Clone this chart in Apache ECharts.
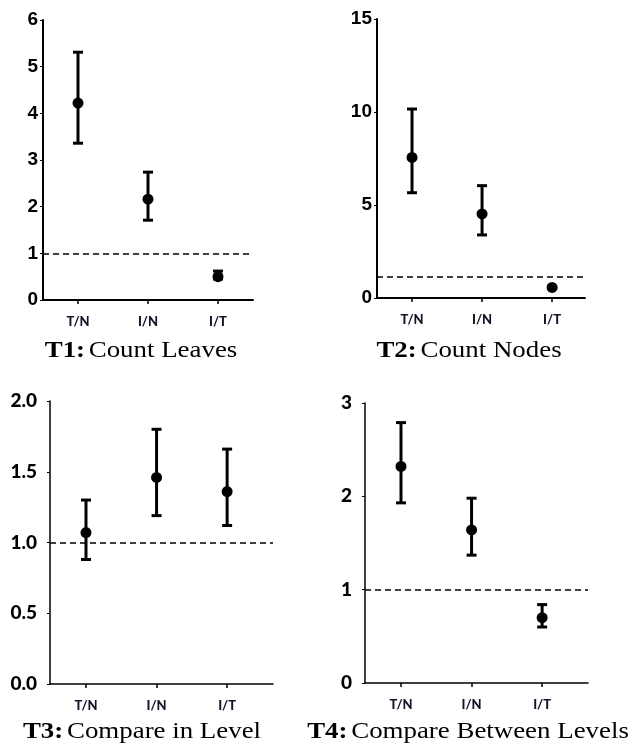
<!DOCTYPE html>
<html>
<head>
<meta charset="utf-8">
<title>Ratio plots</title>
<style>
  html, body { margin: 0; padding: 0; background: #fff; }
  #main { width: 633px; height: 751px; }
</style>
</head>
<body>
<div id="main"></div>
<script src="https://cdn.jsdelivr.net/npm/echarts@6/dist/echarts.min.js"></script>
<script>
  // data
  var categories = ['T/N', 'I/N', 'I/T'];

  var t1Mean = [4.22, 2.16, 0.50];
  var t1Low  = [3.36, 1.71, 0.45];
  var t1High = [5.31, 2.74, 0.62];

  var t2Mean = [7.56, 4.52, 0.57];
  var t2Low  = [5.66, 3.39, 0.52];
  var t2High = [10.16, 6.04, 0.62];

  var t3Mean = [1.07, 1.46, 1.36];
  var t3Low  = [0.88, 1.19, 1.12];
  var t3High = [1.30, 1.80, 1.66];

  var t4Mean = [2.32, 1.64, 0.70];
  var t4Low  = [1.93, 1.37, 0.60];
  var t4High = [2.79, 1.98, 0.84];

  var refLines = [1, 1.15, 1, 1];
  var yMax = [6, 15, 2, 3];
  var yStep = [1, 5, 0.5, 1];
  var titleBold = ['T1:', 'T2:', 'T3:', 'T4:'];
  var titleText = ['Count Leaves', 'Count Nodes', 'Compare in Level', 'Compare Between Levels'];

  var panels = [
    {mean: t1Mean, low: t1Low, high: t1High},
    {mean: t2Mean, low: t2Low, high: t2High},
    {mean: t3Mean, low: t3Low, high: t3High},
    {mean: t4Mean, low: t4Low, high: t4High}
  ];

  // layout of each panel (pixels)
  var layout = [
    {left: 43,  top: 20,  width: 210, height: 280, xmin: -0.5,  xmax: 2.5,  tx: 141, ty: 351},
    {left: 377, top: 19,  width: 208, height: 279, xmin: -0.5,  xmax: 2.47, tx: 469, ty: 351},
    {left: 50,  top: 401, width: 223, height: 283, xmin: -0.51, xmax: 2.65, tx: 142, ty: 732},
    {left: 365, top: 403, width: 223, height: 280, xmin: -0.51, xmax: 2.65, tx: 468, ty: 732}
  ];
  var tickFont = ['Liberation Sans', 'Liberation Sans', 'Lato', 'Lato'];
  var axisWidth = [2, 2, 1.5, 1.5];

  function errorBarItem(params, api) {
    var x = api.value(0);
    var top = api.coord([x, api.value(3)]);
    var bot = api.coord([x, api.value(2)]);
    var mid = api.coord([x, api.value(1)]);
    var capHalf = 5;
    var st = {stroke: '#000', lineWidth: 3};
    return {
      type: 'group',
      children: [
        {type: 'line', shape: {x1: top[0], y1: top[1], x2: bot[0], y2: bot[1]}, style: st},
        {type: 'line', shape: {x1: top[0] - capHalf, y1: top[1], x2: top[0] + capHalf, y2: top[1]}, style: st},
        {type: 'line', shape: {x1: bot[0] - capHalf, y1: bot[1], x2: bot[0] + capHalf, y2: bot[1]}, style: st},
        {type: 'circle', shape: {cx: mid[0], cy: mid[1], r: 5.5}, style: {fill: '#000'}}
      ]
    };
  }

  var grids = [], xAxes = [], yAxes = [], series = [], captions = [];
  panels.forEach(function (p, i) {
    var L = layout[i];
    grids.push({left: L.left, top: L.top, width: L.width, height: L.height, containLabel: false});
    xAxes.push({
      type: 'value', gridIndex: i, min: L.xmin, max: L.xmax,
      splitLine: {show: false},
      axisLine: {show: true, onZero: false, lineStyle: {color: '#000', width: axisWidth[i]}},
      axisTick: {show: true, customValues: [0, 1, 2], length: 4, lineStyle: {color: '#000', width: 1.5}},
      axisLabel: {
        customValues: [0, 1, 2], margin: 15,
        fontFamily: 'Lato', fontWeight: 900, fontSize: 13, color: '#141428',
        formatter: function (v) { return categories[Math.round(v)] || ''; }
      }
    });
    yAxes.push({
      type: 'value', gridIndex: i, min: 0, max: yMax[i], interval: yStep[i],
      splitLine: {show: false},
      axisLine: {show: true, onZero: false, lineStyle: {color: '#000', width: axisWidth[i]}},
      axisTick: {show: true, length: 3, lineStyle: {color: '#000', width: 1}},
      axisLabel: {
        fontFamily: tickFont[i], fontWeight: i < 2 ? 'bold' : 900, fontSize: 19, color: '#000',
        margin: i < 2 ? 5 : 13,
        formatter: function (v) { return i === 2 ? v.toFixed(1) : String(v); }
      }
    });
    var data = p.mean.map(function (m, k) { return [k, m, p.low[k], p.high[k]]; });
    series.push({
      type: 'custom', xAxisIndex: i, yAxisIndex: i,
      renderItem: errorBarItem,
      encode: {x: 0, y: [1, 2, 3]},
      data: data,
      silent: true,
      markLine: {
        silent: true, symbol: 'none',
        label: {show: false},
        lineStyle: {color: '#000', width: 1.5, type: [6, 4]},
        data: [{yAxis: refLines[i]}]
      },
      z: 3
    });
    // caption under each panel, the source is a bit wider than plain Times
    captions.push({
      type: 'text', x: L.tx, y: L.ty, scaleX: 1.12,
      style: {
        text: '{b|' + titleBold[i] + '} {n|' + titleText[i] + '}',
        align: 'center', verticalAlign: 'middle',
        textAlign: 'center', textVerticalAlign: 'middle',
        fill: '#000',
        rich: {
          b: {fontFamily: 'Liberation Serif', fontWeight: 'bold', fontSize: 24, fill: '#000', color: '#000'},
          n: {fontFamily: 'Liberation Serif', fontWeight: 'normal', fontSize: 24, fill: '#000', color: '#000'}
        }
      }
    });
  });

  var myChart = echarts.init(document.getElementById('main'), null, {renderer: 'canvas'});
  myChart.setOption({
    backgroundColor: '#fff',
    animation: false,
    grid: grids,
    xAxis: xAxes,
    yAxis: yAxes,
    series: series,
    graphic: captions
  });
</script>
</body>
</html>
